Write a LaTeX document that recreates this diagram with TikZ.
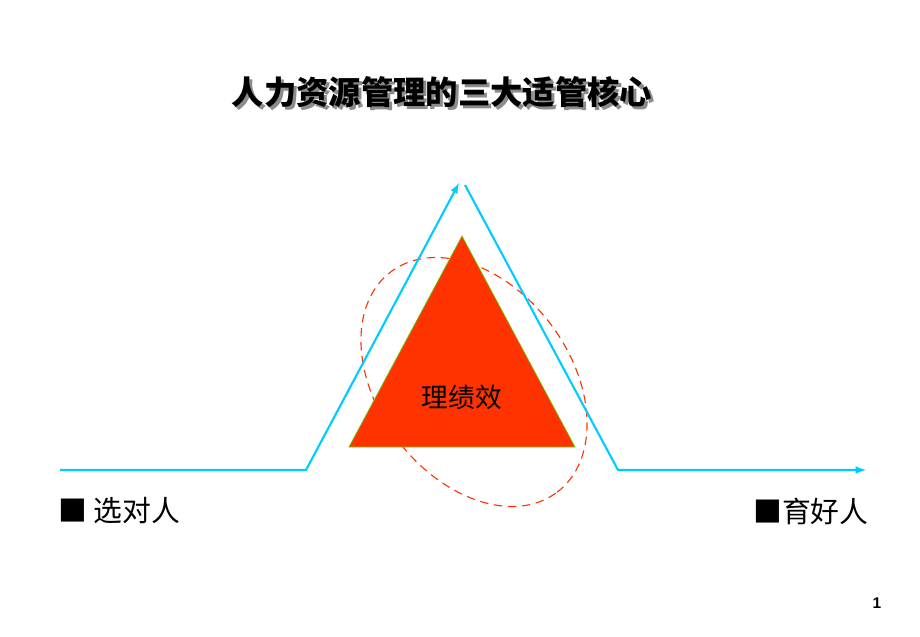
\documentclass[tikz,border=0pt]{standalone}
\usepackage{fontspec}
\newfontfamily\cjk{Noto Sans CJK SC}
\newfontfamily\numfont{Liberation Sans}
\usetikzlibrary{arrows}
\definecolor{himmel}{RGB}{0,204,255}
\definecolor{rojo}{RGB}{255,51,0}
\definecolor{verde}{RGB}{102,204,0}
\tikzstyle{titulo}=[font=\cjk\bfseries\fontsize{23}{28}\selectfont, inner sep=0pt]
\tikzstyle{sombra}=[titulo, text=black!45]
\tikzstyle{texto}=[font=\cjk\fontsize{20.5}{24}\selectfont, anchor=west, inner sep=0pt]
\tikzstyle{centro}=[font=\cjk\fontsize{19}{23}\selectfont, inner sep=0pt]
\tikzstyle{numero}=[font=\numfont\bfseries\fontsize{11}{13}\selectfont, inner sep=0pt]
\tikzstyle{linea}=[draw, color=himmel, line width=1.5pt, -latex]
\tikzstyle{anillo}=[draw=rojo, line width=0.8pt, dash pattern=on 6pt off 4pt]
\tikzstyle{pico}=[fill=rojo, draw=verde, line width=0.5pt]

\begin{document}
\begin{tikzpicture}[x=0.025cm,y=-0.025cm]
	\useasboundingbox (0,0) rectangle (920,637);

	% Title with its shadow
	\path (445,95) node (s1)[sombra]{人力资源管理的三大适管核心};
	\path (442,92) node (t1)[titulo]{人力资源管理的三大适管核心};

	% Corner points of the blue line
	\coordinate (c1) at (60,470);
	\coordinate (c2) at (306,470);
	\coordinate (c3) at (459,183);
	\coordinate (c4) at (465,185);
	\coordinate (c5) at (618,470);
	\coordinate (c6) at (866,470);

	% Corner points of the triangle
	\coordinate (p1) at (462,236);
	\coordinate (p2) at (349,447);
	\coordinate (p3) at (575,447);

	% Dashed ring behind the triangle
	\path[anillo, shift={(474,382)}, rotate=-53] (0,0) ellipse [x radius=3.45cm, y radius=2.4cm];
	\path[pico] (p1) -- (p2) -- (p3) -- cycle;
	\path (462,397) node (p4)[centro]{理绩效};

	% Draw arrows between elements
	\path [linea] (c1) -- (c2) -- (c3);
	\path [linea] (c4) -- (c5) -- (c6);

	\path (58,511) node (l1)[texto]{■ 选对人};
	\path (753,511) node (l2)[texto]{■育好人};
	\path (877,603) node (n1)[numero]{1};

\end{tikzpicture}
\end{document}
